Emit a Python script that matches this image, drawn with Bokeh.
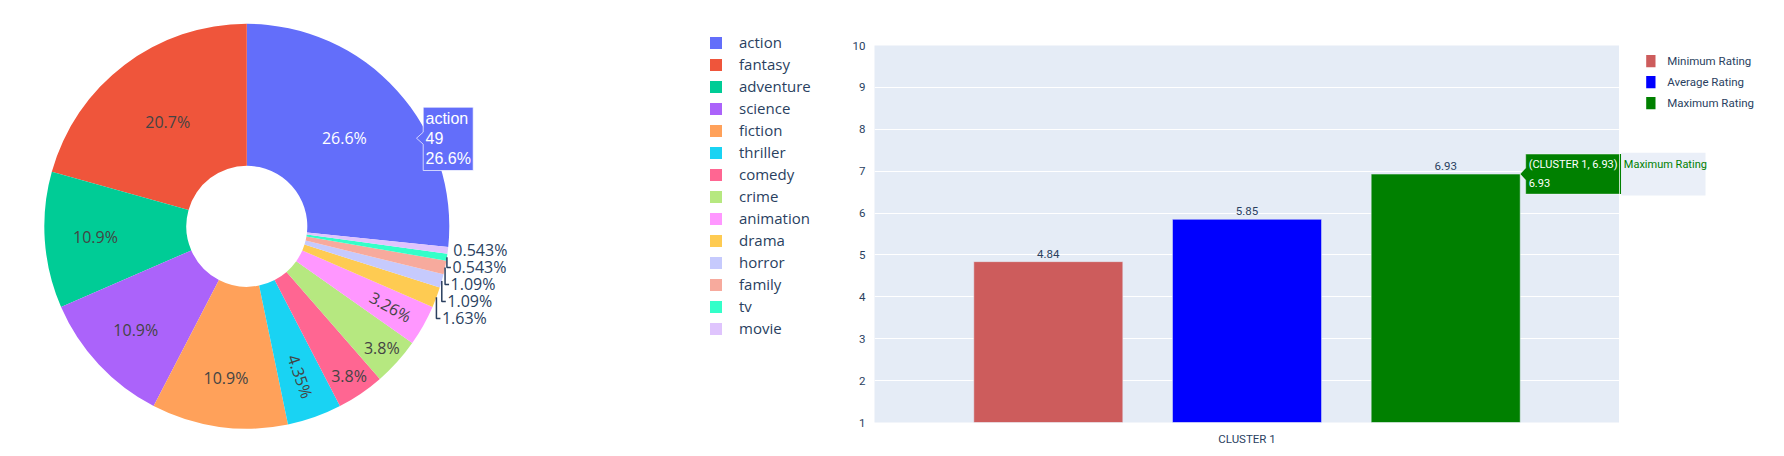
import numpy as np
from bokeh.plotting import figure
from bokeh.models import (ColumnDataSource, Range1d, FactorRange, Legend, LegendItem,
                          FixedTicker)
from bokeh.transform import dodge
from bokeh.layouts import row, column
from bokeh.core.properties import value
from bokeh.embed import file_html
from bokeh.resources import INLINE

# ---------------- data ----------------
genres = ["action", "fantasy", "adventure", "science", "fiction", "thriller", "comedy",
          "crime", "animation", "drama", "horror", "family", "tv", "movie"]
genre_counts = [49, 38, 20, 20, 20, 8, 7, 7, 6, 3, 2, 2, 1, 1]
genre_colors = ["#636EFA", "#EF553B", "#00CC96", "#AB63FA", "#FFA15A", "#19D3F3", "#FF6692",
                "#B6E880", "#FF97FF", "#FECB52", "#C6CAFD", "#F7AA9D", "#33FFC9", "#DFC4FD"]

clusters = ["CLUSTER 1"]
series_names = ["Minimum Rating", "Average Rating", "Maximum Rating"]
min_rating = [4.84]
avg_rating = [5.85]
max_rating = [6.93]
series_colors = ["#CD5C5C", "#0000FF", "#008000"]
rating_ticks = [1, 2, 3, 4, 5, 6, 7, 8, 9, 10]

# ---------------- styles ----------------
FONT = "Open Sans"
SMALL = "Roboto"
INK = "#2a3f5f"
H = 456

# ================= figure 1 : donut =================
W1 = 840
p1 = figure(width=W1, height=H, x_range=Range1d(0, W1), y_range=Range1d(0, H),
            output_backend="svg", toolbar_location=None, title=None,
            x_axis_location=None, y_axis_location=None, min_border=0)
p1.outline_line_color = None
p1.xgrid.visible = False
p1.ygrid.visible = False

CX, CY, R_IN, R_OUT = 246.3, 230.2, 60.5, 202.5

counts = np.array(genre_counts, dtype=float)
frac = counts / counts.sum()
cum = np.cumsum(frac)
theta0 = np.pi / 2 - 2 * np.pi * frac[0]
start = theta0 + 2 * np.pi * (cum - frac)
end = theta0 + 2 * np.pi * cum
mid = (start + end) / 2
pct = [f"{100 * f:.3g}%" for f in frac]

src1 = ColumnDataSource(dict(genre=genres, start=start, end=end, color=genre_colors))
wedges = p1.annular_wedge(x=CX, y=CY, inner_radius=R_IN, outer_radius=R_OUT,
                          start_angle="start", end_angle="end",
                          fill_color="color", line_color=None, source=src1)

# inside labels (style: radial placement fraction & orientation)
inside_r = [0.649, 0.646, 0.749, 0.75, 0.754, 0.787, 0.897, 0.898, 0.814]
inside_radial = [False, False, False, False, False, True, False, False, True]
in_idx = [i for i in range(len(frac)) if frac[i] >= 0.02]
ix, iy, it, ia, ic = [], [], [], [], []
for k, i in enumerate(in_idx):
    r = inside_r[k] * R_OUT
    ix.append(CX + r * np.cos(mid[i]))
    iy.append(CY + r * np.sin(mid[i]))
    it.append(pct[i])
    ia.append(mid[i] if inside_radial[k] else 0.0)
    ic.append("white" if i == 0 else "#444444")
p1.text(x=ix, y=iy, text=it, angle=ia, text_color=ic, text_align="center",
        text_baseline="middle", text_font=value(FONT), text_font_size="16px")

# outside labels with leader lines
out_idx = [i for i in range(len(frac)) if frac[i] < 0.02]
ax = {i: CX + R_OUT * np.cos(mid[i]) for i in out_idx}
ay = {i: CY + R_OUT * np.sin(mid[i]) for i in out_idx}
order = sorted(out_idx, key=lambda i: -ay[i])
ox, oy, ot = [], [], []
lxs, lys = [], []
prev = None
for i in order:
    ly = ay[i] if prev is None else min(ay[i], prev - 17)
    prev = ly
    ox.append(ax[i] + 5.5)
    oy.append(ly)
    ot.append(pct[i])
    if abs(ly - ay[i]) > 1:
        lxs.append([ax[i], ax[i], ax[i] + 4])
        lys.append([ay[i], ly, ly])
p1.multi_line(xs=lxs, ys=lys, line_color=INK, line_width=1.5)
p1.text(x=ox, y=oy, text=ot, text_color=INK, text_align="left", text_baseline="middle",
        text_font=value(FONT), text_font_size="16px")

# legend
items1 = [LegendItem(label=g, renderers=[wedges], index=i) for i, g in enumerate(genres)]
legend1 = Legend(items=items1, location=(708, 118), glyph_width=15, glyph_height=15,
                 label_height=15, spacing=2, label_standoff=16, padding=0, margin=0,
                 border_line_color=None, background_fill_alpha=0,
                 label_text_font=FONT, label_text_font_size="15px", label_text_color=INK)
p1.add_layout(legend1)

# hover tooltip on "action"
TBX0, TBX1, TBY0, TBY1 = 422.7, 472.7, 286.0, 349.3
TIPX, TIPY = 416.0, 318.3
p1.patch(x=[TIPX, TBX0, TBX0, TBX1, TBX1, TBX0, TBX0],
         y=[TIPY, TIPY - 6, TBY0, TBY0, TBY1, TBY1, TIPY + 6],
         fill_color=genre_colors[0], line_color="white", line_alpha=0.7, line_width=1)
p1.text(x=[425, 425, 425], y=[338, 318.3, 298.3],
        text=[genres[0], str(genre_counts[0]), pct[0]],
        text_color="white", text_align="left", text_baseline="middle",
        text_font=value("Liberation Sans"), text_font_size="16px")

# ================= figure 2 : grouped bars =================
FRAME_W, FRAME_H = 745, 377
TOP2, LEFT2, BOTTOM2 = 45, 34, 34
Y0, Y1 = 1, 10
W2 = LEFT2 + FRAME_W
p2 = figure(width=W2, height=H, x_range=FactorRange(factors=clusters),
            y_range=Range1d(Y0, Y1), output_backend="svg", toolbar_location=None, title=None,
            min_border_left=LEFT2, min_border_right=0, min_border_top=TOP2,
            min_border_bottom=BOTTOM2)
p2.background_fill_color = "#E5ECF6"
p2.border_fill_color = "white"
p2.outline_line_color = None
p2.yaxis.ticker = FixedTicker(ticks=rating_ticks)
p2.ygrid.grid_line_color = "white"
p2.ygrid.grid_line_width = 1
p2.xgrid.grid_line_color = None
for ax_ in (p2.xaxis, p2.yaxis):
    ax_.axis_line_color = None
    ax_.major_tick_line_color = None
    ax_.minor_tick_line_color = None
    ax_.major_label_text_color = INK
    ax_.major_label_text_font = SMALL
    ax_.major_label_text_font_size = "11.5px"
p2.yaxis.major_label_standoff = 3
p2.xaxis.major_label_standoff = 3

BAR_W, STEP = 0.2, 0.2667
cols = ["min", "avg", "max"]
src2 = ColumnDataSource(dict(cluster=clusters, min=min_rating, avg=avg_rating, max=max_rating,
                             min_t=[f"{v:.3g}" for v in min_rating],
                             avg_t=[f"{v:.3g}" for v in avg_rating],
                             max_t=[f"{v:.3g}" for v in max_rating]))
for k, (col, name, color) in enumerate(zip(cols, series_names, series_colors)):
    off = (k - 1) * STEP
    p2.vbar(x=dodge("cluster", off, range=p2.x_range), top=col, bottom=0, width=BAR_W,
            fill_color=color, line_color="#E5ECF6", line_width=0.5, source=src2)
    p2.text(x=dodge("cluster", off, range=p2.x_range), y=col, text=col + "_t",
            text_align="center", text_baseline="bottom", y_offset=-4,
            text_font=value(SMALL), text_font_size="11.5px", text_color=INK, source=src2)

# hover tooltip on the maximum bar (x in the factor range's synthetic units)
PXX = 1.0 / FRAME_W
PXY = (Y1 - Y0) / FRAME_H
vmax = max_rating[0]
tip_x = 0.5 + STEP + BAR_W / 2
gl = tip_x + 5.5 * PXX
gr = gl + 95.7 * PXX
gt, gb = vmax + 20 * PXY, vmax - 20 * PXY
p2.patch(x=[tip_x, gl, gl, gr, gr, gl, gl],
         y=[vmax, vmax - 6 * PXY, gb, gb, gt, gt, vmax + 6 * PXY],
         fill_color=series_colors[2], line_color="white", line_alpha=0.4, line_width=1)
p2.text(x=[gl + 3 * PXX, gl + 3 * PXX], y=[vmax + 9.3 * PXY, vmax - 9.1 * PXY],
        text=[f"({clusters[0]}, {vmax:.3g})", f"{vmax:.3g}"],
        text_color="white", text_align="left", text_baseline="middle",
        text_font=value(SMALL), text_font_size="11px")

# ================= figure 3 : legend and tooltip name (outside the plot area) ========
W3 = 1784 - W1 - W2
p3 = figure(width=W3, height=H, x_range=Range1d(0, W3), y_range=Range1d(0, H),
            output_backend="svg", toolbar_location=None, title=None,
            x_axis_location=None, y_axis_location=None, min_border=0)
p3.outline_line_color = None
p3.xgrid.visible = False
p3.ygrid.visible = False

# legend of the bar series
LEG_Y0, LEG_DY = H - 60.7, 21.0
ly_ = [LEG_Y0 - k * LEG_DY for k in range(len(series_names))]
p3.rect(x=[31.35] * len(series_names), y=ly_, width=9.3, height=12.3,
        fill_color=series_colors, line_color=None)
p3.text(x=[47.7] * len(series_names), y=ly_, text=series_names, text_color=INK,
        text_align="left", text_baseline="middle", text_font=value(SMALL),
        text_font_size="11.5px")

# continuation of the tooltip: name box
ty = H - (TOP2 + (Y1 - vmax) / (Y1 - Y0) * FRAME_H)
p3.quad(left=[0], right=[1.7], bottom=[ty - 20], top=[ty + 20],
        fill_color=series_colors[2], line_color=None)
p3.quad(left=[1.7], right=[86], bottom=[ty - 21.35], top=[ty + 21.35],
        fill_color="#EAEFF8", line_color=None)
p3.text(x=[4.3], y=[ty + 9.3], text=[series_names[2]], text_color=series_colors[2],
        text_align="left", text_baseline="middle", text_font=value(SMALL),
        text_font_size="11px")

layout = row(column(p1), column(p2), column(p3))
open("out.html", "w").write(file_html(layout, INLINE))
